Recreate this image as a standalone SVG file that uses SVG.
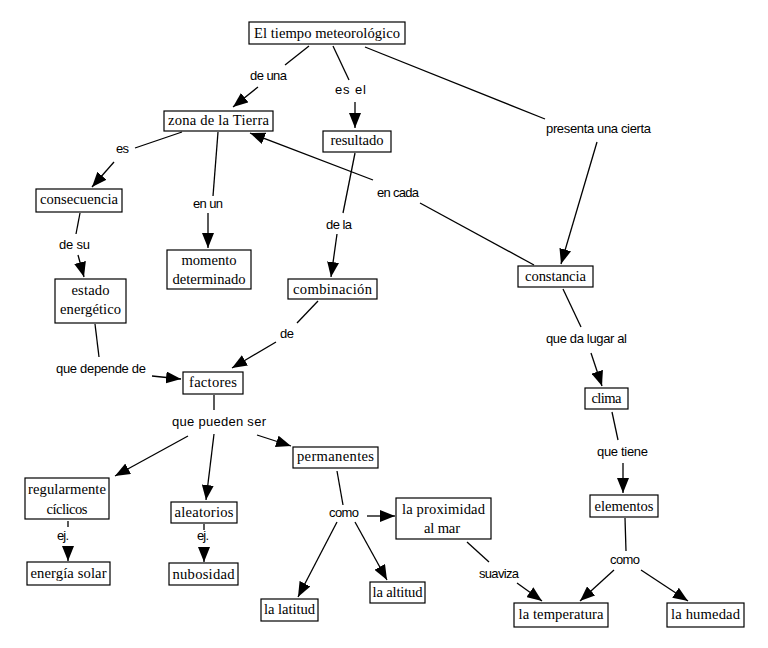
<svg xmlns="http://www.w3.org/2000/svg" width="768" height="648" viewBox="0 0 768 648">
<defs>
<marker id="ah" markerWidth="15" markerHeight="12" refX="15" refY="6" orient="auto" markerUnits="userSpaceOnUse"><path d="M0,0 L15,6 L0,12 z" fill="#000"/></marker>
<style>
.box{fill:#fff;stroke:#000;stroke-width:1.2}
.nt{font-family:"Liberation Serif","Times New Roman",serif;font-size:14.6px;fill:#000;text-anchor:middle}
.lb{font-family:"Liberation Sans",Arial,sans-serif;font-size:13px;fill:#000}
.c line{stroke:#000;stroke-width:1.3;fill:none}
.c line.a{marker-end:url(#ah)}
</style>
</defs>
<rect width="768" height="648" fill="#fff"/>
<g id="connectors" class="c">
<line x1="309" y1="46" x2="285" y2="65"/>
<line class="a" x1="258" y1="87" x2="233" y2="107"/>
<line x1="333" y1="46" x2="349" y2="80"/>
<line class="a" x1="355" y1="102" x2="355" y2="128"/>
<line x1="365" y1="47" x2="545" y2="119"/>
<line class="a" x1="597" y1="142" x2="561" y2="264"/>
<line x1="534" y1="265" x2="420" y2="203"/>
<line class="a" x1="373" y1="180" x2="250" y2="133"/>
<line x1="182" y1="132" x2="135" y2="148"/>
<line class="a" x1="114" y1="162" x2="92" y2="187"/>
<line x1="218" y1="132" x2="213" y2="196"/>
<line class="a" x1="208" y1="213" x2="208" y2="248"/>
<line x1="355" y1="153" x2="343" y2="213"/>
<line class="a" x1="337" y1="234" x2="331" y2="277"/>
<line x1="80" y1="213" x2="76" y2="234"/>
<line class="a" x1="78" y1="255" x2="84" y2="277"/>
<line x1="318" y1="301" x2="297" y2="323"/>
<line class="a" x1="276" y1="342" x2="232" y2="368"/>
<line x1="95" y1="324" x2="99" y2="357"/>
<line class="a" x1="152" y1="376" x2="181" y2="379"/>
<line x1="214" y1="395" x2="214" y2="410"/>
<line class="a" x1="188" y1="436" x2="115" y2="476"/>
<line class="a" x1="214" y1="434" x2="206" y2="500"/>
<line class="a" x1="257" y1="435" x2="291" y2="446"/>
<line x1="68" y1="521" x2="68" y2="527"/>
<line class="a" x1="68" y1="548" x2="68" y2="561"/>
<line x1="204" y1="524" x2="204" y2="530"/>
<line class="a" x1="204" y1="548" x2="204" y2="562"/>
<line x1="337" y1="471" x2="343" y2="505"/>
<line class="a" x1="367" y1="516" x2="395" y2="516"/>
<line class="a" x1="337" y1="522" x2="298" y2="597"/>
<line class="a" x1="355" y1="522" x2="387" y2="580"/>
<line x1="467" y1="542" x2="489" y2="562"/>
<line class="a" x1="517" y1="583" x2="542" y2="601"/>
<line x1="563" y1="289" x2="581" y2="327"/>
<line class="a" x1="591" y1="353" x2="602" y2="386"/>
<line x1="612" y1="412" x2="618" y2="440"/>
<line class="a" x1="623" y1="463" x2="623" y2="493"/>
<line x1="625" y1="518" x2="626" y2="551"/>
<line class="a" x1="614" y1="570" x2="580" y2="601"/>
<line class="a" x1="641" y1="570" x2="688" y2="601"/>
</g>
<g id="labels">
<text class="lb" x="250" y="80" textLength="37">de una</text>
<text class="lb" x="335" y="94" textLength="31">es el</text>
<text class="lb" x="546" y="133" textLength="105">presenta una cierta</text>
<text class="lb" x="377" y="197" textLength="42">en cada</text>
<text class="lb" x="116" y="153" textLength="13">es</text>
<text class="lb" x="193" y="208" textLength="30">en un</text>
<text class="lb" x="326" y="229" textLength="26">de la</text>
<text class="lb" x="59" y="249" textLength="31">de su</text>
<text class="lb" x="280" y="338" textLength="14">de</text>
<text class="lb" x="56" y="373" textLength="90">que depende de</text>
<text class="lb" x="172" y="426" textLength="94">que pueden ser</text>
<text class="lb" x="57" y="540" textLength="12">ej.</text>
<text class="lb" x="197" y="540" textLength="12">ej.</text>
<text class="lb" x="329" y="517" textLength="30">como</text>
<text class="lb" x="546" y="343" textLength="81">que da lugar al</text>
<text class="lb" x="597" y="456" textLength="51">que tiene</text>
<text class="lb" x="479" y="578" textLength="40">suaviza</text>
<text class="lb" x="610" y="564" textLength="30">como</text>
</g>
<g id="n-tiempo"><rect class="box" x="249" y="22" width="156" height="22"/><text class="nt" x="327" y="38" textLength="146">El tiempo meteorológico</text></g>
<g id="n-zona"><rect class="box" x="164" y="111" width="109" height="20"/><text class="nt" x="218.5" y="125" textLength="101">zona de la Tierra</text></g>
<g id="n-resultado"><rect class="box" x="323" y="131" width="68" height="21"/><text class="nt" x="357" y="145" textLength="53">resultado</text></g>
<g id="n-consecuencia"><rect class="box" x="36" y="189" width="86" height="23"/><text class="nt" x="79" y="204" textLength="78">consecuencia</text></g>
<g id="n-momento"><rect class="box" x="167" y="250" width="84" height="39"/><text class="nt" x="209" y="265" textLength="55">momento</text><text class="nt" x="209" y="284" textLength="73">determinado</text></g>
<g id="n-estado"><rect class="box" x="55" y="279" width="71" height="44"/><text class="nt" x="90.5" y="295" textLength="38">estado</text><text class="nt" x="90.5" y="314" textLength="61">energético</text></g>
<g id="n-combinacion"><rect class="box" x="288" y="279" width="89" height="20"/><text class="nt" x="332.5" y="294" textLength="79">combinación</text></g>
<g id="n-factores"><rect class="box" x="183" y="372" width="60" height="22"/><text class="nt" x="213" y="387" textLength="48">factores</text></g>
<g id="n-constancia"><rect class="box" x="518" y="266" width="75" height="21"/><text class="nt" x="555.5" y="281" textLength="61">constancia</text></g>
<g id="n-clima"><rect class="box" x="585" y="388" width="43" height="21"/><text class="nt" x="606.5" y="403" textLength="30">clima</text></g>
<g id="n-regularmente"><rect class="box" x="25" y="478" width="84" height="41"/><text class="nt" x="67" y="494" textLength="78">regularmente</text><text class="nt" x="67" y="514" textLength="41">cíclicos</text></g>
<g id="n-energia"><rect class="box" x="27" y="562" width="83" height="23"/><text class="nt" x="68.5" y="578" textLength="76">energía solar</text></g>
<g id="n-aleatorios"><rect class="box" x="171" y="502" width="66" height="21"/><text class="nt" x="204" y="517" textLength="59">aleatorios</text></g>
<g id="n-nubosidad"><rect class="box" x="169" y="563" width="69" height="22"/><text class="nt" x="203.5" y="579" textLength="62">nubosidad</text></g>
<g id="n-permanentes"><rect class="box" x="293" y="447" width="85" height="21"/><text class="nt" x="335.5" y="461" textLength="77">permanentes</text></g>
<g id="n-latitud"><rect class="box" x="261" y="599" width="57" height="22"/><text class="nt" x="289.5" y="614" textLength="51">la latitud</text></g>
<g id="n-altitud"><rect class="box" x="370" y="582" width="55" height="21"/><text class="nt" x="397.5" y="597" textLength="50">la altitud</text></g>
<g id="n-proximidad"><rect class="box" x="396" y="498" width="95" height="41"/><text class="nt" x="443.5" y="514" textLength="83">la proximidad</text><text class="nt" x="442" y="533" textLength="36">al mar</text></g>
<g id="n-elementos"><rect class="box" x="590" y="495" width="68" height="22"/><text class="nt" x="624" y="511" textLength="59">elementos</text></g>
<g id="n-temperatura"><rect class="box" x="514" y="603" width="94" height="24"/><text class="nt" x="561" y="619" textLength="85">la temperatura</text></g>
<g id="n-humedad"><rect class="box" x="667" y="603" width="77" height="24"/><text class="nt" x="705.5" y="619" textLength="69">la humedad</text></g>
</svg>
